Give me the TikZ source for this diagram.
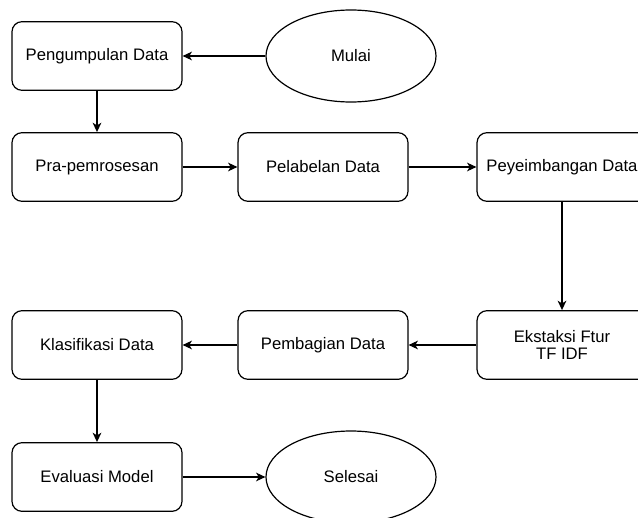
\documentclass[tikz,border=0pt]{standalone}
\usepackage{fontspec}
\setmainfont{Liberation Sans}
\usetikzlibrary{arrows.meta}
\usetikzlibrary{shapes.geometric}

\tikzset{
  procbox/.style={draw, line width=0.9pt, rounded corners=7.5pt, minimum width=127.5pt, minimum height=51.5pt, inner sep=2pt, align=center, font=\fontsize{12.5}{13}\selectfont},
  terminal/.style={draw, line width=0.9pt, ellipse, minimum width=127.5pt, minimum height=69pt, inner sep=0pt, font=\fontsize{12.5}{13}\selectfont},
  flow/.style={line width=0.9pt, -{Stealth[length=7pt,width=6.5pt,inset=2pt]}}
}

\begin{document}
\begin{tikzpicture}[x=0.75pt,y=0.75pt,yscale=-1,xscale=1]
\useasboundingbox (0,0) rectangle (638,517);

% Ellipse: start and end
\node [terminal] (mulai) at (351,56) {Mulai};
\node [terminal] (selesai) at (351,477) {Selesai};

% Process boxes, row 1 and 2
\node [procbox] (kumpul) at (97,56) {Pengumpulan Data};
\node [procbox] (prapros) at (97,167) {Pra-pemrosesan};
\node [procbox] (label) at (323,167) {Pelabelan Data};
\node [procbox] (imbang) at (562,167) {Peyeimbangan Data};

% Process boxes, row 3 and 4
\node [procbox] (fitur) at (562,345) {Ekstaksi Ftur\\TF IDF};
\node [procbox] (bagi) at (323,345) {Pembagian Data};
\node [procbox] (klasif) at (97,345) {Klasifikasi Data};
\node [procbox] (evaluasi) at (97,477) {Evaluasi Model};

% Connectors
\draw [flow] (mulai) -- (kumpul);
\draw [flow] (kumpul) -- (prapros);
\draw [flow] (prapros) -- (label);
\draw [flow] (label) -- (imbang);
\draw [flow] (imbang) -- (fitur);
\draw [flow] (fitur) -- (bagi);
\draw [flow] (bagi) -- (klasif);
\draw [flow] (klasif) -- (evaluasi);
\draw [flow] (evaluasi) -- (selesai);

\end{tikzpicture}
\end{document}
